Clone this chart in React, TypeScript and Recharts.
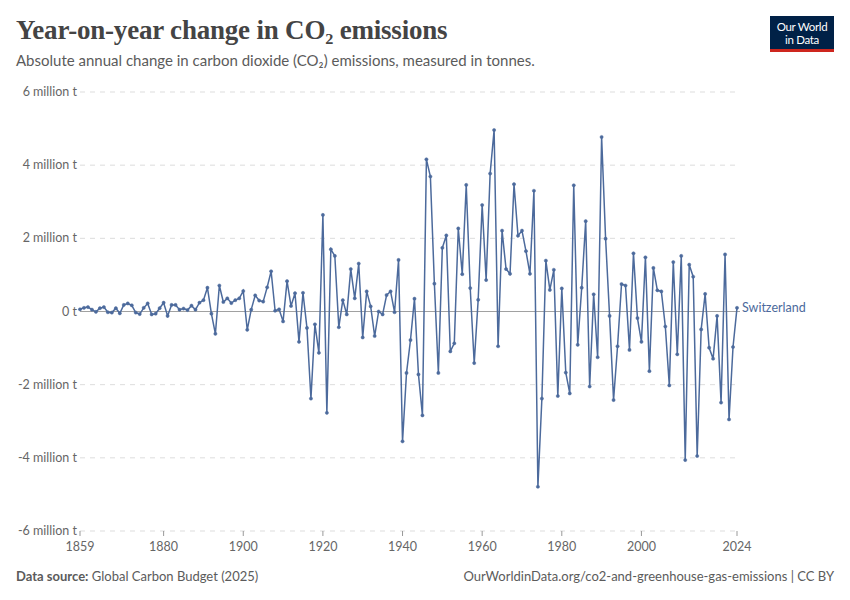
import { LineChart, Line, XAxis, YAxis, CartesianGrid, ReferenceLine } from "recharts";

// annual change, million tonnes CO2, Switzerland
const firstYear = 1859;
const changeMt = [
    // 1859-1868
    0.06, 0.1, 0.12, 0.05, -0.01, 0.09, 0.12, -0.02, -0.03, 0.09,
    // 1869-1878
    -0.05, 0.18, 0.22, 0.17, -0.03, -0.07, 0.1, 0.22, -0.08, -0.06,
    // 1879-1888
    0.09, 0.24, -0.12, 0.18, 0.18, 0.05, 0.08, 0.04, 0.16, 0.05,
    // 1889-1898
    0.24, 0.31, 0.65, -0.06, -0.61, 0.71, 0.26, 0.36, 0.23, 0.31,
    // 1899-1908
    0.36, 0.56, -0.5, 0.05, 0.44, 0.3, 0.27, 0.66, 1.1, 0.02,
    // 1909-1918
    0.06, -0.27, 0.83, 0.15, 0.5, -0.83, 0.51, -0.45, -2.38, -0.35,
    // 1919-1928
    -1.13, 2.64, -2.77, 1.7, 1.52, -0.43, 0.31, -0.08, 1.16, 0.36,
    // 1929-1938
    1.31, -0.71, 0.55, 0.14, -0.67, 0.0, -0.08, 0.45, 0.55, -0.02,
    // 1939-1948
    1.41, -3.55, -1.68, -0.78, 0.35, -1.72, -2.84, 4.16, 3.69, 0.76,
    // 1949-1958
    -1.68, 1.74, 2.08, -1.09, -0.87, 2.27, 1.02, 3.46, 0.64, -1.41,
    // 1959-1968
    0.32, 2.91, 0.86, 3.77, 4.96, -0.95, 2.21, 1.16, 1.03, 3.48,
    // 1969-1978
    2.07, 2.21, 1.65, 1.03, 3.3, -4.79, -2.38, 1.39, 0.59, 1.14,
    // 1979-1988
    -2.31, 0.63, -1.67, -2.24, 3.45, -0.91, 0.65, 2.47, -2.05, 0.47,
    // 1989-1998
    -1.25, 4.77, 1.99, -0.12, -2.42, -0.95, 0.75, 0.71, -1.05, 1.59,
    // 1999-2008
    -0.18, -0.83, 1.48, -1.63, 1.19, 0.58, 0.55, -0.41, -2.02, 1.35,
    // 2009-2018
    -1.17, 1.52, -4.06, 1.28, 0.95, -3.95, -0.49, 0.48, -0.99, -1.29,
    // 2019-2024
    -0.12, -2.49, 1.56, -2.95, -0.97, 0.1,
];
const xTicks = [1859, 1880, 1900, 1920, 1940, 1960, 1980, 2000, 2024];
const yTicks = [-6, -4, -2, 0, 2, 4, 6];
const seriesName = "Switzerland";

const data = changeMt.map((v, i) => ({ year: firstYear + i, value: v }));

const lineColor = "#4c6a9c";
const sans = "Lato, 'Noto Sans', sans-serif";

const EndLabel = (props: any) => {
    const { x, y, index } = props;
    if (index !== data.length - 1) return null;
    return (
        <text x={x + 5} y={y} dy={4} fill={lineColor} fontSize={12.5} fontFamily={sans}>
            {seriesName}
        </text>
    );
};

const YTick = (props: any) => {
    const { y, payload } = props;
    const v = payload.value;
    return (
        <text x={77} y={y} dy={4} textAnchor="end" fill="#666" fontSize={12.5} fontFamily={sans}>
            {v === 0 ? "0 t" : `${v} million t`}
        </text>
    );
};

const App = () => {
    return (
        <div style={{ position: "absolute", left: 0, top: 0, width: 850, height: 600, background: "#fff", fontFamily: sans }}>
            <div style={{ position: "absolute", left: 16, top: 15, fontFamily: "'Liberation Serif', serif", fontSize: 27, fontWeight: 700, color: "#444", letterSpacing: -0.2 }}>
                Year-on-year change in CO₂ emissions
            </div>
            <div style={{ position: "absolute", left: 16, top: 51, fontSize: 15, color: "#5b5b5b" }}>
                Absolute annual change in carbon dioxide (CO₂) emissions, measured in tonnes.
            </div>
            <div style={{ position: "absolute", left: 770, top: 16, width: 64, height: 36, background: "#002147", borderBottom: "3px solid #ce261e", boxSizing: "border-box", color: "#fff", fontSize: 11.5, lineHeight: "13px", textAlign: "center", paddingTop: 4, letterSpacing: -0.3 }}>
                Our World<br />in Data
            </div>

            <LineChart width={850} height={600} data={data} margin={{ top: 92, right: 110, bottom: 39, left: 8 }}>
                <CartesianGrid horizontal vertical={false} stroke="#ddd" strokeDasharray="5 5" />
                <XAxis
                    dataKey="year"
                    type="number"
                    domain={[1859, 2024]}
                    ticks={xTicks}
                    padding={{ left: 0, right: 3 }}
                    axisLine={false}
                    tickLine={{ stroke: "#999" }}
                    tickSize={5}
                    tickMargin={6}
                    height={30}
                    tick={{ fill: "#666", fontSize: 12.5, fontFamily: sans }}
                    interval={0}
                />
                <YAxis
                    type="number"
                    domain={[-6, 6]}
                    ticks={yTicks}
                    axisLine={false}
                    tickLine={false}
                    width={72}
                    tick={<YTick />}
                    interval={0}
                />
                <ReferenceLine y={0} stroke="#a1a1a1" strokeWidth={1} />
                <Line
                    type="linear"
                    dataKey="value"
                    stroke={lineColor}
                    strokeWidth={1.5}
                    dot={{ r: 1.6, fill: lineColor, stroke: lineColor, strokeWidth: 0.5 }}
                    activeDot={false}
                    isAnimationActive={false}
                    label={<EndLabel />}
                />
            </LineChart>

            <div style={{ position: "absolute", left: 16, top: 568, fontSize: 13, color: "#5b5b5b" }}>
                <span style={{ fontWeight: 700 }}>Data source:</span> Global Carbon Budget (2025)
            </div>
            <div style={{ position: "absolute", right: 16, top: 568, fontSize: 13, color: "#5b5b5b" }}>
                OurWorldinData.org/co2-and-greenhouse-gas-emissions | CC BY
            </div>
        </div>
    );
};

export default App;
